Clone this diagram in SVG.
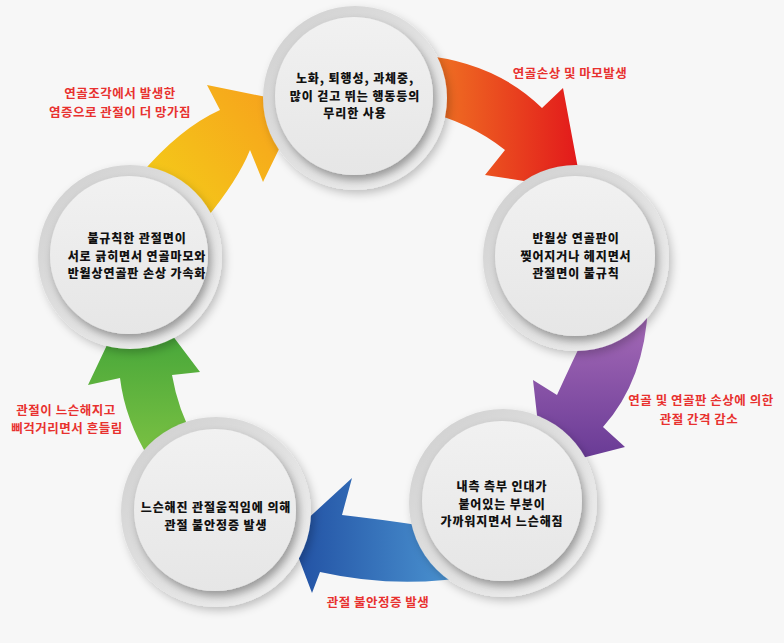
<svg xmlns="http://www.w3.org/2000/svg" width="784" height="643" viewBox="0 0 784 643">
<defs>
  <linearGradient id="gRing" x1="0" y1="0" x2="1" y2="1">
    <stop offset="0" stop-color="#cecece"/>
    <stop offset="0.5" stop-color="#e0e0e0"/>
    <stop offset="1" stop-color="#f2f2f2"/>
  </linearGradient>
  <linearGradient id="gDisc" x1="0" y1="0" x2="0" y2="1">
    <stop offset="0" stop-color="#f1f1f1"/>
    <stop offset="1" stop-color="#e6e6e6"/>
  </linearGradient>
  <filter id="fRing" x="-20%" y="-20%" width="140%" height="140%">
    <feDropShadow dx="3" dy="4" stdDeviation="4" flood-color="#000" flood-opacity="0.22"/>
  </filter>
  <filter id="fDisc" x="-20%" y="-20%" width="140%" height="140%">
    <feDropShadow dx="3" dy="5" stdDeviation="4" flood-color="#000" flood-opacity="0.35"/>
  </filter>
  <linearGradient id="gOrange" gradientUnits="userSpaceOnUse" x1="440" y1="0" x2="585" y2="0">
    <stop offset="0" stop-color="#ef6f22"/>
    <stop offset="1" stop-color="#e2151b"/>
  </linearGradient>
  <linearGradient id="gPurple" gradientUnits="userSpaceOnUse" x1="0" y1="330" x2="0" y2="460">
    <stop offset="0" stop-color="#a066b4"/>
    <stop offset="1" stop-color="#683a95"/>
  </linearGradient>
  <linearGradient id="gBlue" gradientUnits="userSpaceOnUse" x1="470" y1="0" x2="300" y2="0">
    <stop offset="0" stop-color="#4f9ad5"/>
    <stop offset="1" stop-color="#2353a5"/>
  </linearGradient>
  <linearGradient id="gGreen" gradientUnits="userSpaceOnUse" x1="0" y1="460" x2="0" y2="300">
    <stop offset="0" stop-color="#7dc243"/>
    <stop offset="1" stop-color="#389f37"/>
  </linearGradient>
  <linearGradient id="gYellow" gradientUnits="userSpaceOnUse" x1="170" y1="200" x2="290" y2="100">
    <stop offset="0" stop-color="#f4c819"/>
    <stop offset="1" stop-color="#f7a01c"/>
  </linearGradient>
  <style>
    .ring { fill: url(#gRing); filter: url(#fRing); }
    .disc { fill: url(#gDisc); filter: url(#fDisc); }
    .t { font-family: "Noto Sans CJK KR", "Noto Sans", sans-serif; font-size: 12px; letter-spacing: 0.9px; font-weight: 900; fill: #111; text-anchor: middle; }
    .r { font-family: "Noto Sans CJK KR", "Noto Sans", sans-serif; font-size: 12.5px; letter-spacing: 0.5px; font-weight: 700; fill: #e8312f; text-anchor: middle; }
  </style>
</defs>
<rect x="0" y="0" width="784" height="643" fill="#f7f7f7"/>

<g id="connectors">
  <path id="arrow-top-right" fill="url(#gOrange)" d="M420,55 Q495,62 542,108 L563,88 L582,190 L485,175 L505,150 Q470,122 420,110 Z"/>
  <path id="arrow-right-br" fill="url(#gPurple)" d="M648,305 Q645,380 603,427 L625,447 L543,468 L533,380 L557,395 Q572,362 590,325 Z"/>
  <path id="arrow-br-bl" fill="url(#gBlue)" d="M480,535 Q390,520 342,515 L352,478 L290,535 L312,593 L320,572 Q400,590 480,575 Z"/>
  <path id="arrow-bl-l" fill="url(#gGreen)" d="M150,460 Q125,420 120,378 L88,385 L135,286 L200,372 L172,375 Q178,410 195,440 Z"/>
  <path id="arrow-l-top" fill="url(#gYellow)" d="M140,175 Q180,128 220,110 L207,85 L301,104 L263,182 L250,150 Q238,180 205,220 Z"/>
</g>

<g id="node-top">
  <circle class="ring" cx="355" cy="98" r="92"/>
  <circle class="disc" cx="354" cy="96" r="79"/>
  <text class="t" x="355" y="83">노화, 퇴행성, 과체중,</text>
  <text class="t" x="355" y="100.5">많이 걷고 뛰는 행동등의</text>
  <text class="t" x="355" y="118">무리한 사용</text>
</g>
<g id="node-right">
  <circle class="ring" cx="576" cy="258" r="93"/>
  <circle class="disc" cx="575" cy="256" r="80"/>
  <text class="t" x="576" y="243">반월상 연골판이</text>
  <text class="t" x="576" y="260.5">찢어지거나 헤지면서</text>
  <text class="t" x="576" y="278">관절면이 불규칙</text>
</g>
<g id="node-br">
  <circle class="ring" cx="503" cy="503" r="94"/>
  <circle class="disc" cx="502" cy="501" r="80"/>
  <text class="t" x="502" y="491">내측 측부 인대가</text>
  <text class="t" x="502" y="508.5">붙어있는 부분이</text>
  <text class="t" x="502" y="526">가까워지면서 느슨해짐</text>
</g>
<g id="node-bl">
  <circle class="ring" cx="216" cy="512" r="95"/>
  <circle class="disc" cx="215" cy="510" r="81"/>
  <text class="t" x="216" y="512">느슨해진 관절움직임에 의해</text>
  <text class="t" x="216" y="529.5">관절 불안정증 발생</text>
</g>
<g id="node-left">
  <circle class="ring" cx="130" cy="257" r="92"/>
  <circle class="disc" cx="129" cy="255" r="79"/>
  <text class="t" x="137" y="243">불규칙한 관절면이</text>
  <text class="t" x="137" y="260.5">서로 긁히면서 연골마모와</text>
  <text class="t" x="137" y="278">반월상연골판 손상 가속화</text>
</g>

<g id="labels">
  <text class="r" x="120" y="98">연골조각에서 발생한</text>
  <text class="r" x="120" y="116.5">염증으로 관절이 더 망가짐</text>
  <text class="r" x="570" y="78">연골손상 및 마모발생</text>
  <text class="r" x="701" y="405">연골 및 연골판 손상에 의한</text>
  <text class="r" x="699" y="423.5">관절 간격 감소</text>
  <text class="r" x="378" y="606.5">관절 불안정증 발생</text>
  <text class="r" x="66" y="414.5">관절이 느슨해지고</text>
  <text class="r" x="67" y="433">삐걱거리면서 흔들림</text>
</g>
</svg>
